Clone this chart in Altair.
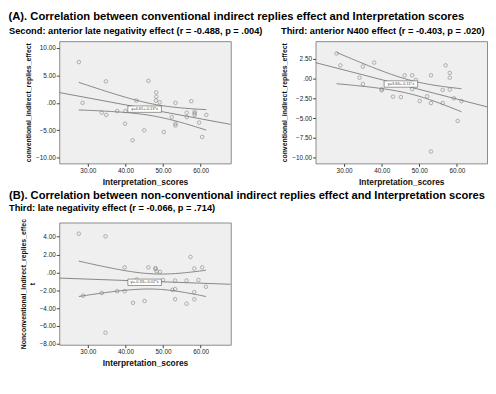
import altair as alt
import numpy as np
import pandas as pd

# ---------------- data ----------------
x_ticks = [30, 40, 50, 60]

p1_x = [27.6, 28.6, 34.8, 33.7, 34.9, 37.8, 40.0, 39.9, 42.9, 46.1, 45.0, 41.9, 48.2, 48.2, 48.1,
        49.1, 50.2, 52.3, 53.3, 53.3, 53.3, 56.3, 56.3, 57.5, 58.4, 58.4, 58.4, 59.6, 60.4, 61.5]
p1_y = [7.4, 0.0, 3.9, -1.8, -2.2, -1.5, -1.5, -3.8, 0.4, 4.0, -5.0, -6.8, 1.9, 1.1, 0.4,
        0.1, -5.3, -2.6, 0.0, -3.8, -4.1, -1.8, -2.6, 0.3, -1.6, -1.9, -2.2, -3.6, -6.2, -2.2]
p1_yticks = [-10, -5, 0, 5, 10]

p2_x = [28.0, 29.0, 34.1, 35.0, 35.0, 38.0, 40.0, 40.0, 43.0, 45.1, 46.1, 48.1, 48.1, 49.1,
        50.1, 52.1, 53.1, 53.1, 56.2, 56.2, 57.0, 58.1, 58.1, 58.1, 59.2, 60.2, 61.2, 53.1]
p2_y = [3.15, 1.65, 0.1, 1.5, -0.7, 2.0, -1.35, -1.5, -2.3, -2.35, 0.4, 0.4, -1.35, -0.2,
        -2.85, -2.25, 0.4, -3.1, -1.45, -3.1, 1.65, 0.7, 0.1, -1.4, -2.5, -5.35, -2.85, -9.2]
p2_yticks = [-10, -7.5, -5, -2.5, 0, 2.5]

p3_x = [27.6, 34.7, 28.75, 33.7, 37.8, 39.8, 39.8, 42.0, 43.0, 45.1, 46.1, 48.0, 48.0, 48.3, 49.2,
        50.0, 52.5, 53.2, 53.2, 53.2, 56.25, 56.25, 57.3, 58.3, 58.3, 58.3, 59.4, 60.4, 61.4, 34.7]
p3_y = [4.35, 4.05, -2.6, -2.3, -2.1, -2.1, 0.57, -3.4, -0.8, -3.2, 0.57, 0.5, 0.37, 0.13, 0.07,
        -0.84, -1.95, -1.85, -0.9, -3.0, -0.9, -3.5, 1.75, 0.44, -2.2, -3.0, -0.84, 0.57, -1.6, -6.75]
p3_yticks = [-8, -6, -4, -2, 0, 2, 4]

eq_labels = ["y=4.65+-0.13*x", "y=3.66+-0.11*x", "y=-0.33+-0.02*x"]
eq_x = [45.1, 45.1, 45.1]
eq_y = [-1.15, -0.7, -1.1]

title_a = "(A). Correlation between conventional indirect replies effect and Interpretation scores"
title_b = "(B). Correlation between non-conventional indirect replies effect and Interpretation scores"
sub_1 = "Second: anterior late negativity effect (r = -0.488, p = .004)"
sub_2 = "Third: anterior N400 effect (r = -0.403, p = .020)"
sub_3 = "Third: late negativity effect (r = -0.066, p = .714)"

FONT = "Liberation Sans"
LABEL_EXPR = "datum.value == 0 ? '.00' : format(datum.value, '.2f')"
GREY = "#7a7a7a"
PW, PH = 174, 124


def fit_tables(xs, ys, xdom):
    X = np.array(xs, dtype=float)
    Y = np.array(ys, dtype=float)
    n = len(X)
    b, a = np.polyfit(X, Y, 1)
    xm = X.mean()
    sxx = ((X - xm) ** 2).sum()
    s = np.sqrt(((Y - (a + b * X)) ** 2).sum() / (n - 2))
    t = 2.045
    g = np.linspace(X.min(), X.max(), 60)
    se = s * np.sqrt(1.0 / n + (g - xm) ** 2 / sxx)
    fit = pd.DataFrame({"x": xdom, "y": [a + b * v for v in xdom], "s": "fit"})
    up = pd.DataFrame({"x": g, "y": a + b * g + t * se, "s": "up"})
    lo = pd.DataFrame({"x": g, "y": a + b * g - t * se, "s": "lo"})
    return pd.concat([fit, up, lo], ignore_index=True)


def panel(xs, ys, yticks, ydom, ytitle, idx):
    xdom = [22.4, 68.0]
    xsc = alt.Scale(domain=xdom, nice=False, zero=False)
    ysc = alt.Scale(domain=ydom, nice=False, zero=False)
    xax = alt.Axis(values=x_ticks, labelExpr=LABEL_EXPR, title="Interpretation_scores",
                   titleFontSize=8.5)
    yax = alt.Axis(values=yticks, labelExpr=LABEL_EXPR, title=ytitle, titleFontSize=7)
    X = alt.X("x:Q", scale=xsc, axis=xax)
    Yc = alt.Y("y:Q", scale=ysc, axis=yax)

    pts = alt.Chart(pd.DataFrame({"x": xs, "y": ys})).mark_point(
        shape="circle", size=13, filled=False, color=GREY, strokeWidth=0.8
    ).encode(x=X, y=Yc)
    lines = alt.Chart(fit_tables(xs, ys, xdom)).mark_line(
        color=GREY, strokeWidth=0.9, clip=True
    ).encode(x=X, y=Yc, detail="s:N")
    lab_df = pd.DataFrame({"x": [eq_x[idx]], "y": [eq_y[idx]], "t": [eq_labels[idx]]})
    box = alt.Chart(lab_df).mark_point(
        shape="M-1,-0.19H1V0.19H-1Z", size=1156, filled=True, fill="white",
        stroke="#555", strokeWidth=0.6, opacity=1
    ).encode(x=X, y=Yc)
    txt = alt.Chart(lab_df).mark_text(fontSize=4, color="#444", font=FONT).encode(
        x=X, y=Yc, text="t:N")
    return alt.layer(lines, pts, box, txt).properties(width=PW, height=PH)


def sub_title(text, dx):
    return alt.TitleParams(text, anchor="start", frame="group", dx=dx, fontSize=9.4,
                           fontWeight="bold", font=FONT, offset=5)


c1 = panel(p1_x, p1_y, p1_yticks, [-11.0, 11.2], "conventional_indirect_replies_effect",
           0).properties(title=sub_title(sub_1, -51))
c2 = panel(p2_x, p2_y, p2_yticks, [-10.7, 4.7], "conventional_indirect_replies_effect",
           1).properties(title=sub_title(sub_2, -35))
c3 = panel(p3_x, p3_y, p3_yticks, [-8.1, 5.6],
           ["Nonconventional_indirect_replies_effec", "t"], 2)
c3 = c3.properties(
    title=alt.TitleParams(title_b, subtitle=sub_3, anchor="start", frame="group", dx=-51,
                          fontSize=11.3, fontWeight="bold", font=FONT,
                          subtitleFontSize=9.4, subtitleFontWeight="bold", subtitleFont=FONT,
                          subtitleColor="black", subtitlePadding=3, offset=6)
)

chart = alt.concat(
    c1, c2, c3, columns=2, spacing={"row": 60, "column": 86}, bounds="flush"
).properties(
    title=alt.TitleParams(title_a, anchor="start", fontSize=11.4, fontWeight="bold",
                          font=FONT, offset=3),
    padding={"left": 0, "top": 0, "right": 0, "bottom": 0},
).configure_view(
    fill="#efefef", stroke="#8a8a8a", strokeWidth=1
).configure_axis(
    grid=False, domain=False, labelFontSize=6.5, labelFont=FONT, labelColor="#222",
    tickColor="#444", tickSize=3, labelPadding=1, titleFont=FONT, titleFontWeight="bold",
    titleColor="#111", titlePadding=4
).configure_title(color="black")

chart.save("out.html", embed_options={"renderer": "svg", "actions": False})
